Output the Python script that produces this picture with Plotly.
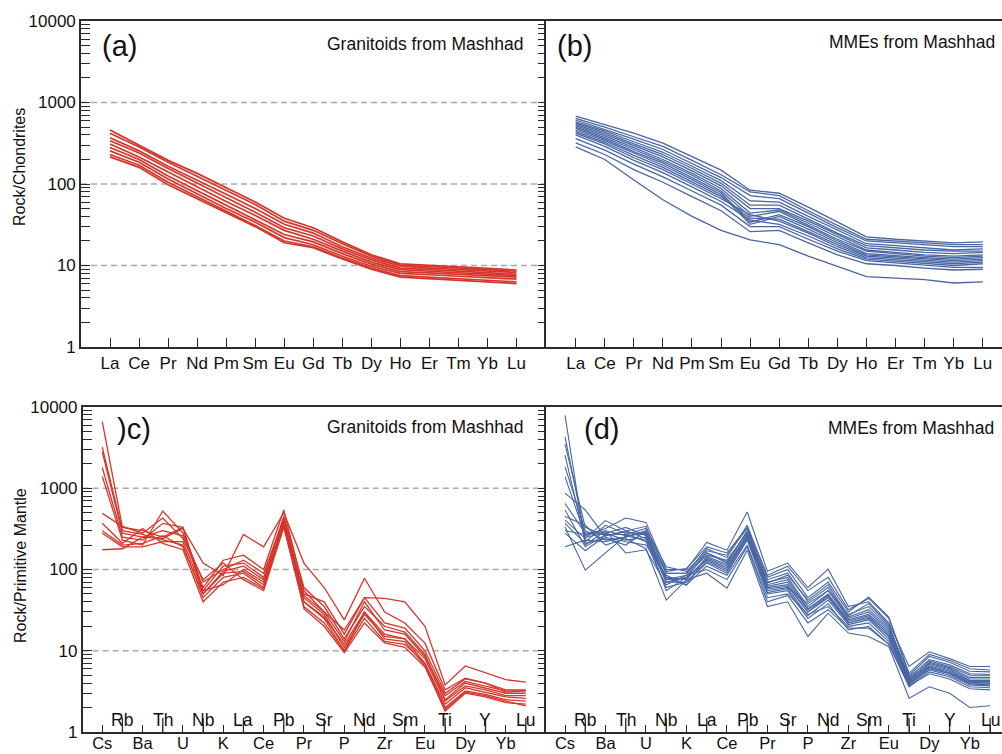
import plotly.graph_objects as go

REE = ["La", "Ce", "Pr", "Nd", "Pm", "Sm", "Eu", "Gd", "Tb", "Dy", "Ho", "Er", "Tm", "Yb", "Lu"]
SPIDER = ["Cs", "Rb", "Ba", "Th", "U", "Nb", "K", "La", "Ce", "Pb", "Pr",
          "Sr", "P", "Nd", "Zr", "Sm", "Eu", "Ti", "Dy", "Y", "Yb", "Lu"]
DECADES = [1, 10, 100, 1000, 10000]
DECADE_TEXT = ["1", "10", "100", "1000", "10000"]
GRID_LEVELS = [10, 100, 1000]

# (a) Granitoids, chondrite-normalised REE; one row per sample (La ... Lu)
GRANITOID_REE = [
    [460, 300, 195, 135, 90, 60, 38, 29, 19.5, 13.5, 10.5, 10.0, 9.5, 9.2, 8.8],
    [420, 285, 185, 125, 84, 56, 35, 27, 18.5, 13.0, 10.2, 9.7, 9.2, 8.9, 8.5],
    [370, 255, 165, 112, 75, 50, 32, 25, 17.0, 12.3, 9.8, 9.3, 8.9, 8.6, 8.2],
    [340, 240, 155, 103, 68, 45, 29, 23, 16.0, 11.7, 9.3, 8.9, 8.5, 8.2, 7.8],
    [310, 215, 140, 92, 61, 41, 27, 21, 15.0, 11.0, 8.9, 8.5, 8.2, 7.9, 7.5],
    [280, 200, 125, 83, 55, 37, 24, 19.5, 14.0, 10.4, 8.4, 8.1, 7.8, 7.5, 7.2],
    [255, 185, 115, 76, 50, 34, 22, 18, 13.0, 9.8, 8.0, 7.7, 7.4, 7.1, 6.8],
    [230, 170, 105, 70, 46, 31, 20, 17, 12.3, 9.3, 7.5, 7.2, 6.9, 6.6, 6.3],
    [215, 160, 98, 66, 44, 30, 19, 16.5, 12.0, 9.0, 7.2, 6.9, 6.6, 6.3, 6.0],
]

# (b) MMEs, chondrite-normalised REE; one row per sample (La ... Lu)
MME_REE = [
    [680, 530, 420, 318, 215, 148, 84, 77, 52, 34.5, 22.5, 21.0, 20.0, 19.0, 19.5],
    [640, 500, 380, 290, 195, 130, 80, 72, 47, 31.0, 21.0, 20.0, 19.0, 18.0, 18.0],
    [610, 470, 355, 265, 180, 120, 72, 66, 44, 29.0, 20.0, 19.0, 18.0, 17.0, 17.0],
    [580, 450, 330, 245, 165, 110, 62, 60, 40, 27.0, 18.5, 17.5, 16.5, 15.5, 16.0],
    [560, 430, 310, 230, 155, 102, 55, 55, 37, 25.0, 17.5, 16.5, 15.5, 15.0, 15.0],
    [540, 410, 295, 215, 145, 95, 50, 50, 35, 24.0, 16.5, 15.5, 14.5, 14.0, 14.5],
    [520, 390, 280, 200, 135, 88, 44, 48, 33, 22.5, 15.5, 14.5, 13.5, 13.0, 13.5],
    [500, 370, 265, 190, 128, 82, 40, 46, 31, 21.0, 15.0, 14.0, 13.0, 12.5, 13.0],
    [480, 355, 250, 180, 120, 78, 34, 42, 30, 20.0, 14.0, 13.2, 12.5, 12.0, 12.5],
    [460, 340, 240, 170, 113, 74, 32, 40, 28, 19.0, 13.5, 12.8, 12.0, 11.5, 12.0],
    [440, 325, 225, 160, 106, 70, 38, 37, 26, 18.0, 13.0, 12.3, 11.5, 11.0, 11.5],
    [420, 310, 210, 150, 100, 66, 42, 35, 25, 17.0, 12.5, 11.8, 11.0, 10.5, 11.0],
    [400, 290, 195, 138, 92, 61, 36, 32, 23, 16.0, 12.0, 11.3, 10.5, 10.0, 10.5],
    [360, 260, 175, 122, 82, 55, 30, 30, 21, 15.0, 11.5, 10.8, 10.0, 9.5, 9.5],
    [320, 230, 150, 105, 70, 47, 26, 27, 19, 13.5, 10.5, 10.0, 9.3, 8.8, 9.0],
    [285, 200, 112, 64, 40, 27, 20.6, 18, 13, 9.7, 7.3, 7.0, 6.7, 6.1, 6.3],
]

# (c) Granitoids, primitive-mantle-normalised; one row per element, columns = samples
GRANITOID_SPIDER = [
    [6600, 3200, 2800, 1800, 1400, 490, 370, 300, 280, 175],   # Cs
    [330, 300, 280, 250, 230, 340, 210, 200, 190, 180],        # Rb
    [300, 270, 250, 230, 200, 280, 320, 210, 190, 250],        # Ba
    [250, 230, 300, 370, 525, 430, 210, 260, 220, 240],        # Th
    [330, 200, 260, 330, 280, 240, 175, 190, 220, 320],        # U
    [55, 45, 60, 50, 70, 75, 40, 50, 55, 120],                 # Nb
    [110, 80, 130, 95, 100, 120, 70, 90, 65, 85],              # K
    [120, 90, 150, 110, 130, 75, 80, 95, 100, 270],            # La
    [80, 60, 100, 75, 90, 55, 58, 65, 70, 190],                # Ce
    [450, 380, 540, 400, 420, 330, 350, 360, 400, 500],        # Pb
    [60, 45, 55, 40, 50, 35, 33, 40, 48, 120],                 # Pr
    [35, 28, 30, 25, 40, 22, 20, 26, 30, 60],                  # Sr
    [14, 11, 13, 10, 16, 10, 9.5, 12, 18, 24],                 # P
    [35, 28, 40, 30, 45, 25, 22, 30, 45, 78],                  # Nd
    [20, 15, 18, 14, 22, 13, 12.5, 16, 44, 30],                # Zr
    [17, 14, 16, 13, 19, 12, 11, 14, 40, 22],                  # Sm
    [9, 7, 8.5, 6.5, 10, 7, 6.3, 8, 20, 12.4],                 # Eu
    [2.5, 2.0, 2.8, 1.8, 3.0, 2.2, 1.9, 2.4, 3.8, 3.3],        # Ti
    [4.0, 3.2, 4.2, 3.0, 4.5, 3.5, 3.1, 3.7, 6.5, 4.6],        # Dy
    [3.5, 2.9, 3.7, 2.7, 4.0, 3.1, 2.8, 3.3, 5.4, 4.0],        # Y
    [3.0, 2.5, 3.2, 2.3, 3.3, 2.7, 2.4, 2.8, 4.4, 3.1],        # Yb
    [3.0, 2.4, 3.2, 2.2, 3.3, 2.6, 2.1, 2.8, 4.1, 3.2],        # Lu
]

# (d) MMEs, primitive-mantle-normalised; one row per element, columns = samples
MME_SPIDER = [
    [7900, 4300, 3500, 2560, 1830, 1380, 870, 650, 540, 450, 405, 370, 334, 300, 280, 190],  # Cs
    [200, 250, 330, 220, 300, 260, 540, 280, 190, 350, 240, 210, 98, 270, 170, 230],        # Rb
    [300, 280, 260, 350, 230, 320, 250, 280, 270, 200, 400, 240, 160, 300, 260, 220],       # Ba
    [260, 230, 300, 280, 250, 430, 220, 330, 270, 240, 300, 200, 260, 160, 290, 250],       # Th
    [280, 250, 340, 220, 300, 380, 200, 260, 320, 180, 240, 300, 230, 175, 270, 290],       # U
    [70, 80, 90, 60, 75, 100, 85, 55, 108, 42, 70, 95, 80, 65, 90, 75],                     # Nb
    [80, 75, 90, 70, 85, 100, 65, 80, 95, 75, 70, 103, 64, 85, 90, 78],                     # K
    [160, 140, 180, 120, 150, 215, 110, 130, 170, 90, 125, 190, 145, 100, 160, 135],        # La
    [120, 110, 140, 90, 130, 173, 85, 100, 150, 59, 95, 160, 115, 75, 125, 105],            # Ce
    [300, 260, 350, 230, 280, 510, 200, 250, 320, 173, 240, 330, 270, 190, 290, 260],       # Pb
    [70, 60, 80, 50, 65, 95, 45, 55, 75, 35, 52, 85, 62, 40, 68, 58],                       # Pr
    [80, 65, 100, 55, 75, 120, 50, 60, 90, 40, 58, 110, 70, 48, 85, 62],                    # Sr
    [35, 30, 45, 25, 33, 60, 28, 38, 40, 15, 27, 55, 32, 22, 42, 30],                       # P
    [55, 45, 70, 38, 50, 101, 35, 55, 60, 29, 42, 80, 48, 32, 65, 47],                      # Nd
    [25, 22, 30, 18, 24, 35, 20, 28, 26, 16.5, 21, 32, 23, 19, 27, 22],                     # Zr
    [30, 25, 46, 20, 28, 40, 22, 35, 32, 15, 24, 44, 27, 19, 38, 26],                       # Sm
    [18, 15, 26, 12, 17, 22, 13, 20, 19, 11.2, 14, 25, 16, 12, 21, 15],                     # Eu
    [4.5, 4.0, 5.0, 3.6, 4.2, 6.4, 3.8, 4.8, 4.4, 2.6, 3.9, 5.3, 4.3, 3.7, 4.6, 4.1],       # Ti
    [7.0, 6.2, 8.5, 5.5, 6.8, 9.7, 5.8, 7.5, 7.2, 3.6, 6.0, 9.0, 6.5, 5.2, 7.8, 6.3],       # Dy
    [6.0, 5.3, 7.2, 4.8, 5.8, 8.0, 5.0, 6.4, 6.2, 3.0, 5.2, 7.6, 5.6, 4.5, 6.7, 5.4],       # Y
    [4.5, 4.0, 5.6, 3.6, 4.3, 6.4, 3.8, 5.0, 4.7, 2.0, 3.9, 6.0, 4.2, 3.4, 5.2, 4.1],       # Yb
    [4.5, 4.0, 5.5, 3.5, 4.3, 6.4, 3.7, 5.0, 4.7, 2.1, 3.8, 5.8, 4.2, 3.3, 5.1, 4.0],       # Lu
]

RED = "#d5362b"
BLUE = "#4866a3"
AX = "#2b2b2b"
GRID = "#a9a9a9"
FONT = "Liberation Sans, Arial, sans-serif"

W, H = 1002, 754

fig = go.Figure()


def add_lines(samples, n, color, width, xa, ya):
    for s in samples:
        fig.add_trace(go.Scatter(x=list(range(n)), y=list(s), mode="lines",
                                 line=dict(color=color, width=width),
                                 xaxis=xa, yaxis=ya, showlegend=False,
                                 hoverinfo="skip"))


add_lines(GRANITOID_REE, len(REE), RED, 1.7, "x", "y")
add_lines(MME_REE, len(REE), BLUE, 1.3, "x2", "y2")
add_lines(list(zip(*GRANITOID_SPIDER)), len(SPIDER), RED, 1.3, "x3", "y3")
add_lines(list(zip(*MME_SPIDER)), len(SPIDER), BLUE, 1.1, "x4", "y4")


def px_x(a, b):
    return [a / W, min(b / W, 1.0)]


def px_y(top, bottom):
    return [1 - bottom / H, 1 - top / H]


tickfont = dict(family=FONT, size=17, color="#111")
tickfont_low = dict(family=FONT, size=16.5, color="#111")

# log ticks at every digit (1..9 per decade); only decades are labelled
Y_TICKVALS = []
Y_TICKTEXT = []
for d, lab in zip(DECADES[:-1], DECADE_TEXT[:-1]):
    for k in range(1, 10):
        Y_TICKVALS.append(k * d)
        Y_TICKTEXT.append(lab if k == 1 else "")
Y_TICKVALS.append(DECADES[-1])
Y_TICKTEXT.append(DECADE_TEXT[-1])


def yaxis_left(domain, anchor):
    return dict(domain=domain, anchor=anchor, type="log", range=[0, 4],
                tickmode="array", tickvals=Y_TICKVALS, ticktext=Y_TICKTEXT,
                tickfont=tickfont, automargin=False,
                showline=True, linecolor=AX, linewidth=1.6, mirror="ticks",
                ticks="inside", ticklen=9, tickwidth=1.2, tickcolor=AX,
                showgrid=False, zeroline=False)


def yaxis_right(domain, anchor):
    return dict(domain=domain, anchor=anchor, type="log", range=[0, 4],
                showticklabels=False, ticks="", automargin=False,
                showline=True, linecolor=AX, linewidth=1.6,
                showgrid=False, zeroline=False)


top_dom = px_y(21, 347)
bot_dom = px_y(407, 732)

ree_idx = list(range(len(REE)))
spider_idx = list(range(len(SPIDER)))
odd_idx = list(range(1, len(SPIDER), 2))


def xaxis_ree(domain, anchor, rng):
    return dict(domain=domain, anchor=anchor, range=rng, tickmode="array",
                tickvals=ree_idx, ticktext=REE, tickfont=tickfont, automargin=False,
                ticks="inside", ticklen=9, tickwidth=1.3, tickcolor=AX,
                showline=True, linecolor=AX, linewidth=1.6, mirror=True,
                showgrid=False, zeroline=False)


def xaxis_spider(domain, anchor, rng):
    return dict(domain=domain, anchor=anchor, range=rng, tickmode="array",
                tickvals=spider_idx,
                ticktext=[s if i % 2 == 0 else "" for i, s in enumerate(SPIDER)],
                tickfont=tickfont_low, automargin=False,
                ticks="inside", ticklen=7, tickwidth=1.3, tickcolor=AX,
                ticklabelstandoff=-5,
                showline=True, linecolor=AX, linewidth=1.6, mirror=True,
                showgrid=False, zeroline=False)


fig.update_layout(
    template="none",
    width=W, height=H, margin=dict(l=0, r=0, t=0, b=0, pad=0),
    paper_bgcolor="white", plot_bgcolor="white", showlegend=False,
    xaxis=xaxis_ree(px_x(81, 547), "y", [-1, 15.05]),
    yaxis=yaxis_left(top_dom, "x"),
    xaxis2=xaxis_ree(px_x(546, 1002), "y2", [-1.02, 14.66]),
    yaxis2=yaxis_right(top_dom, "x2"),
    xaxis3=xaxis_spider(px_x(82.7, 547), "y3", [-0.97, 22.05]),
    yaxis3=yaxis_left(bot_dom, "x3"),
    xaxis4=xaxis_spider(px_x(546, 1002), "y4", [-0.94, 21.59]),
    yaxis4=yaxis_right(bot_dom, "x4"),
)

# dashed horizontal reference lines at 10, 100, 1000 and the long upper-row ticks
shapes = []
for xa, ya in (("x", "y"), ("x2", "y2"), ("x3", "y3"), ("x4", "y4")):
    for g in GRID_LEVELS:
        shapes.append(dict(type="line", xref=f"{xa} domain", yref=ya,
                           x0=0, x1=1, y0=g, y1=g, layer="below",
                           line=dict(color=GRID, width=1.5, dash="6px,4px")))
for xa, ya in (("x3", "y3 domain"), ("x4", "y4 domain")):
    for i in odd_idx:
        shapes.append(dict(type="line", xref=xa, yref=ya, x0=i, x1=i,
                           y0=0, y1=14 / 325, line=dict(color=AX, width=1.3)))
fig.update_layout(shapes=shapes)

ann = []
big = dict(family=FONT, size=29, color="#111")
mid = dict(family=FONT, size=17.5, color="#111")
ann.append(dict(text="(a)", x=0.041, y=0.923, xref="x domain", yref="y domain",
                xanchor="left", yanchor="middle", showarrow=False, font=big))
ann.append(dict(text="Granitoids from Mashhad", x=0.953, y=0.93, xref="x domain",
                yref="y domain", xanchor="right", yanchor="middle", showarrow=False, font=mid))
ann.append(dict(text="(b)", x=0.02, y=0.923, xref="x2 domain", yref="y2 domain",
                xanchor="left", yanchor="middle", showarrow=False, font=big))
ann.append(dict(text="MMEs from Mashhad", x=0.989, y=0.936, xref="x2 domain",
                yref="y2 domain", xanchor="right", yanchor="middle", showarrow=False, font=mid))
ann.append(dict(text=")c)", x=0.07, y=0.932, xref="x3 domain", yref="y3 domain",
                xanchor="left", yanchor="middle", showarrow=False, font=big))
ann.append(dict(text="Granitoids from Mashhad", x=0.953, y=0.937, xref="x3 domain",
                yref="y3 domain", xanchor="right", yanchor="middle", showarrow=False, font=mid))
ann.append(dict(text="(d)", x=0.079, y=0.932, xref="x4 domain", yref="y4 domain",
                xanchor="left", yanchor="middle", showarrow=False, font=big))
ann.append(dict(text="MMEs from Mashhad", x=0.986, y=0.935, xref="x4 domain",
                yref="y4 domain", xanchor="right", yanchor="middle", showarrow=False, font=mid))

# y-axis titles
ann.append(dict(text="Rock/Chondrites", x=20 / W, y=1 - 167 / H, xref="paper", yref="paper",
                textangle=-90, showarrow=False, xanchor="center", yanchor="middle",
                font=dict(family=FONT, size=16, color="#111")))
ann.append(dict(text="Rock/Primitive Mantle", x=20 / W, y=1 - 566 / H, xref="paper", yref="paper",
                textangle=-90, showarrow=False, xanchor="center", yanchor="middle",
                font=dict(family=FONT, size=16, color="#111")))

# staggered (upper-row) element labels in the spider diagrams
for xa, ya in (("x3", "y3 domain"), ("x4", "y4 domain")):
    for i in odd_idx:
        ann.append(dict(text=SPIDER[i], x=i, y=0.037, xref=xa, yref=ya,
                        xanchor="center", yanchor="middle", showarrow=False, font=mid))

fig.update_layout(annotations=ann)

fig.write_html("out.html")
